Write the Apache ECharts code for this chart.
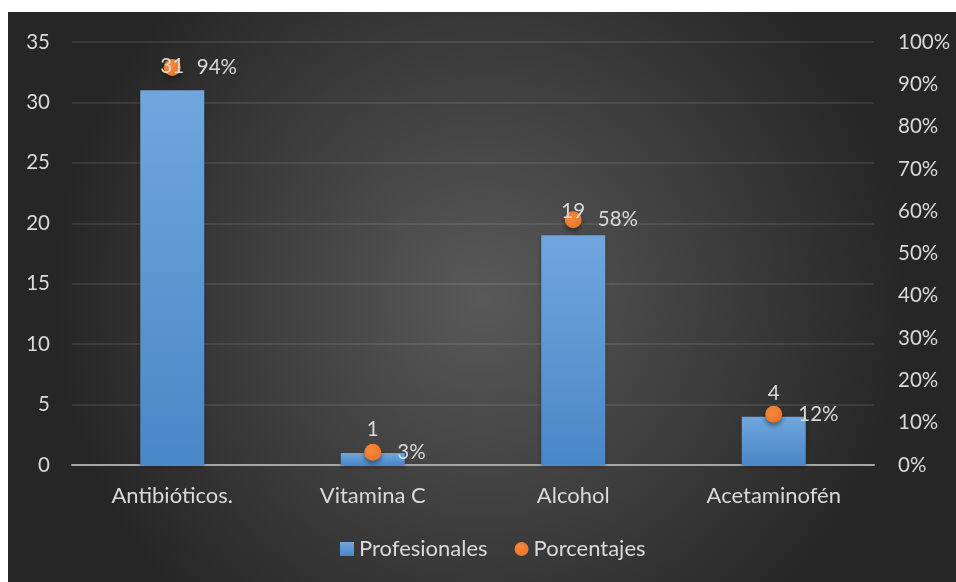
<!DOCTYPE html>
<html>
<head>
<meta charset="utf-8">
<script src="https://cdn.jsdelivr.net/npm/echarts@6/dist/echarts.min.js"></script>
<style>
html,body{margin:0;padding:0;background:#fff;width:956px;height:582px;overflow:hidden;}
#c{position:absolute;left:8px;top:12px;width:948px;height:570px;}
</style>
</head>
<body>
<div id="c"></div>
<script>
const categories = ['Antibióticos.', 'Vitamina C', 'Alcohol', 'Acetaminofén'];
const profesionales = [31, 1, 19, 4];
const porcentajes = [0.94, 0.03, 0.58, 0.12];
const leftTicks = {min: 0, max: 35, interval: 5};
const rightTicks = {min: 0, max: 1, interval: 0.1};

const chart = echarts.init(document.getElementById('c'), null, {renderer: 'canvas'});
const font = 'Lato, "Open Sans", sans-serif';
const txt = '#d9d9d9';
const fs = 20.5;
const fsBig = 22;
chart.setOption({
  backgroundColor: {
    type: 'radial', x: 0.5, y: 0.5, r: 0.75,
    colorStops: [{offset: 0, color: '#595959'}, {offset: 1, color: '#262626'}]
  },
  textStyle: {fontFamily: font},
  grid: {left: 64, right: 82, top: 30, bottom: 117, containLabel: false},
  legend: {
    bottom: 17, left: 327, itemGap: 27, itemWidth: 14, itemHeight: 14,
    textStyle: {color: txt, fontSize: fsBig, fontFamily: font},
    data: [
      {name: 'Profesionales', icon: 'rect'},
      {name: 'Porcentajes', icon: 'circle'}
    ]
  },
  xAxis: {
    type: 'category', data: categories,
    axisTick: {show: false},
    axisLine: {lineStyle: {color: '#a6a6a6', width: 2}},
    axisLabel: {color: txt, fontSize: fsBig, margin: 20, fontFamily: font}
  },
  yAxis: [
    {
      type: 'value', min: leftTicks.min, max: leftTicks.max, interval: leftTicks.interval,
      axisLine: {show: false}, axisTick: {show: false},
      axisLabel: {color: txt, fontSize: fs, margin: 22, fontFamily: font},
      splitLine: {lineStyle: {color: 'rgba(255,255,255,0.12)', width: 1.5}}
    },
    {
      type: 'value', min: rightTicks.min, max: rightTicks.max, interval: rightTicks.interval,
      axisLine: {show: false}, axisTick: {show: false},
      axisLabel: {color: txt, fontSize: fs, margin: 24, fontFamily: font,
        formatter: v => Math.round(v * 100) + '%'},
      splitLine: {show: false}
    }
  ],
  series: [
    {
      name: 'Profesionales', type: 'bar', yAxisIndex: 0, data: profesionales,
      barWidth: 64,
      itemStyle: {
        color: {type: 'linear', x: 0, y: 0, x2: 0, y2: 1,
          colorStops: [{offset: 0, color: '#6fa7dd'}, {offset: 1, color: '#4a87c7'}]},
        shadowColor: 'rgba(0,0,0,0.3)', shadowBlur: 4, shadowOffsetY: 2
      },
      z: 2
    },
    {
      name: 'Porcentajes', type: 'line', yAxisIndex: 1, data: porcentajes,
      symbol: 'circle', symbolSize: 17,
      lineStyle: {width: 0, opacity: 0},
      itemStyle: {
        color: {type: 'radial', x: 0.4, y: 0.4, r: 0.7,
          colorStops: [{offset: 0, color: '#f7893a'}, {offset: 1, color: '#e8742a'}]},
        shadowColor: 'rgba(0,0,0,0.45)', shadowBlur: 5, shadowOffsetY: 3
      },
      label: {show: true, position: 'right', distance: 16, color: txt, fontSize: fs, fontFamily: font,
        formatter: p => Math.round(p.value * 100) + '%'},
      z: 3
    },
    {
      name: 'labels', type: 'bar', yAxisIndex: 0, data: profesionales,
      barWidth: 64, barGap: '-100%',
      itemStyle: {color: 'rgba(0,0,0,0)'},
      label: {show: true, position: 'top', distance: 13, color: txt, fontSize: fs, fontFamily: font},
      silent: true,
      z: 6
    }
  ]
});
</script>
</body>
</html>
